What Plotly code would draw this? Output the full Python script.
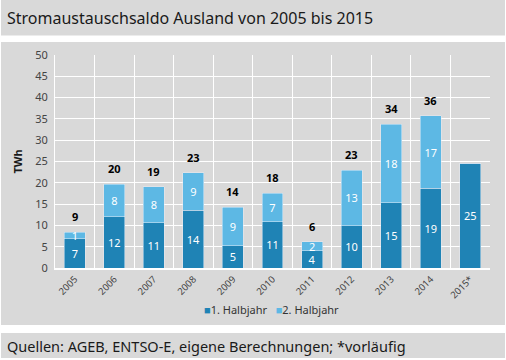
import plotly.graph_objects as go

years = ["2005", "2006", "2007", "2008", "2009", "2010", "2011", "2012", "2013", "2014", "2015*"]
h1 = [6.9, 12.0, 10.6, 13.6, 5.2, 10.8, 4.1, 9.9, 15.3, 18.7, 24.6]
h2 = [1.5, 7.7, 8.5, 8.8, 9.1, 6.7, 2.1, 13.1, 18.5, 17.05, 0]
h1_labels = ["7", "12", "11", "14", "5", "11", "4", "10", "15", "19", "25"]
h2_labels = ["1", "8", "8", "9", "9", "7", "2", "13", "18", "17", ""]
total_labels = ["9", "20", "19", "23", "14", "18", "6", "23", "34", "36", ""]
series_names = ["1. Halbjahr", "2. Halbjahr"]
totals = [a + b for a, b in zip(h1, h2)]

DARK = "#1f83b5"
LIGHT = "#5db8e4"
GRAY = "#d9d9d9"
FONT = "Noto Sans"

fig = go.Figure()
fig.add_trace(go.Bar(
    x=years, y=h1, name=series_names[0], marker_color=DARK,
    text=h1_labels, textposition="inside", insidetextanchor="middle",
    constraintext="none", textangle=0,
    textfont=dict(color="white", size=11, family=FONT),
    hoverinfo="skip", showlegend=False,
))
fig.add_trace(go.Bar(
    x=years, y=h2, name=series_names[1], marker_color=LIGHT,
    text=h2_labels, textposition="inside", insidetextanchor="middle",
    constraintext="none", textangle=0,
    textfont=dict(color="white", size=11, family=FONT),
    hoverinfo="skip", showlegend=False,
))

L, T = 55, 55
W, H = 435, 213

def px_x(p):
    return (p - L) / W

def px_y(p):
    return (T + H - p) / H

shapes = [
    dict(type="rect", xref="paper", yref="paper", x0=px_x(1), x1=px_x(505),
         y0=px_y(35.5), y1=px_y(0), fillcolor=GRAY, line_width=0, layer="below"),
    dict(type="rect", xref="paper", yref="paper", x0=px_x(1), x1=px_x(505),
         y0=px_y(325), y1=px_y(42), fillcolor=GRAY, line_width=0, layer="below"),
    dict(type="rect", xref="paper", yref="paper", x0=px_x(1), x1=px_x(505),
         y0=px_y(358), y1=px_y(333), fillcolor=GRAY, line_width=0, layer="below"),
]

annotations = [
    dict(text="Stromaustauschsaldo Ausland von 2005 bis 2015", xref="paper", yref="paper",
         x=px_x(5), y=px_y(18), xanchor="left", yanchor="middle", showarrow=False,
         font=dict(size=16, color="#1a1a1a", family=FONT)),
    dict(text="Quellen: AGEB, ENTSO-E, eigene Berechnungen; *vorläufig", xref="paper", yref="paper",
         x=px_x(5), y=px_y(346), xanchor="left", yanchor="middle", showarrow=False,
         font=dict(size=14.5, color="#1a1a1a", family=FONT)),
    dict(text=f"<span style='color:{DARK}'>■</span>{series_names[0]}   "
              f"<span style='color:{LIGHT}'>■</span>{series_names[1]}",
         xref="paper", yref="paper", x=px_x(271), y=px_y(309),
         xanchor="center", yanchor="middle", showarrow=False,
         font=dict(size=11, color="#333333", family=FONT)),
]

for i, (tot, lab) in enumerate(zip(totals, total_labels)):
    if lab:
        annotations.append(dict(
            x=i, y=tot, xref="x", yref="y", text=f"<b>{lab}</b>", showarrow=False,
            yanchor="bottom", yshift=6,
            font=dict(size=11, color="black", family=FONT)))

fig.update_layout(
    width=506, height=360,
    margin=dict(l=L, r=506 - L - W, t=T, b=360 - T - H, autoexpand=False),
    paper_bgcolor="white", plot_bgcolor=GRAY,
    barmode="stack", bargap=0.47,
    font=dict(family=FONT, color="#444444"),
    shapes=shapes, annotations=annotations,
    showlegend=False,
    xaxis=dict(type="category", tickangle=-45, tickfont=dict(size=9.5, color="#444444"),
               showgrid=True, gridcolor="white", gridwidth=1, ticks="",
               tickson="boundaries", automargin=False,
               showline=True, linecolor="white", linewidth=2, mirror=False),
    yaxis=dict(range=[0, 50], dtick=5, tickfont=dict(size=11, color="#444444"),
               showgrid=True, gridcolor="white", gridwidth=1, zeroline=False,
               automargin=False, ticklabelstandoff=4,
               showline=True, linecolor="white", linewidth=1,
               title=dict(text="<b>TWh</b>", font=dict(size=11, color="#1a1a1a"), standoff=10)),
)

fig.write_html("out.html", post_script="document.body.style.margin='0';",
               config={"displayModeBar": False})
